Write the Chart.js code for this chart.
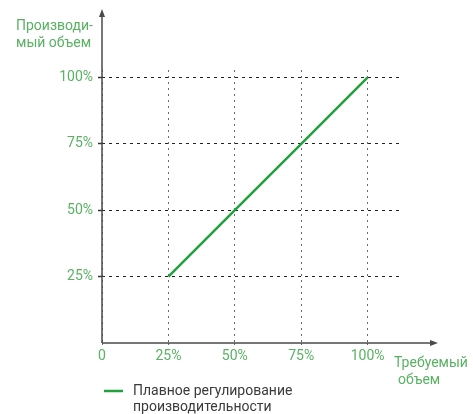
<!DOCTYPE html>
<html>
<head>
<meta charset="utf-8">
<script src="https://cdn.jsdelivr.net/npm/chart.js@4"></script>
<style>
html,body{margin:0;padding:0;background:#fff;}
canvas{display:block;}
</style>
</head>
<body>
<canvas id="c" width="473" height="414"></canvas>
<script>
const xTickValues = [0, 25, 50, 75, 100];
const yTickValues = [25, 50, 75, 100];
const requiredVolume = [25, 50, 75, 100];
const producedVolume = [25, 50, 75, 100];
const seriesLabel = ['Плавное регулирование', 'производительности'];
const yTitle = ['Производи-', 'мый объем'];
const xTitle = ['Требуемый', 'объем'];

const GREEN_TEXT = '#58b262';
const LINE_GREEN = '#22a03c';
const FONT = 'Roboto';

const axesPlugin = {
  id: 'axesArrows',
  afterDraw(chart) {
    const ctx = chart.ctx;
    const xs = chart.scales.x, ys = chart.scales.y;
    const x0 = xs.getPixelForValue(0);
    const y0 = ys.getPixelForValue(0);
    ctx.save();
    ctx.strokeStyle = '#4a4a4a';
    ctx.fillStyle = '#4a4a4a';
    ctx.lineWidth = 1.5;
    // y axis
    ctx.beginPath();
    ctx.moveTo(x0, y0);
    ctx.lineTo(x0, 14);
    ctx.stroke();
    ctx.beginPath();
    ctx.moveTo(x0, 9);
    ctx.lineTo(x0 - 3, 17);
    ctx.lineTo(x0 + 3, 17);
    ctx.closePath();
    ctx.fill();
    // x axis
    ctx.beginPath();
    ctx.moveTo(x0, y0);
    ctx.lineTo(433, y0);
    ctx.stroke();
    ctx.beginPath();
    ctx.moveTo(438, y0);
    ctx.lineTo(430, y0 - 3);
    ctx.lineTo(430, y0 + 3);
    ctx.closePath();
    ctx.fill();

    // axis titles
    ctx.font = '14px ' + FONT;
    ctx.fillStyle = GREEN_TEXT;
    ctx.textBaseline = 'middle';
    ctx.textAlign = 'left';
    ctx.fillText(yTitle[0], 16, 26);
    ctx.fillText(yTitle[1], 16, 43);
    ctx.fillText(xTitle[0], 394, 363);
    ctx.fillText(xTitle[1], 398, 380);

    // legend
    const ds = chart.data.datasets[0];
    ctx.strokeStyle = ds.borderColor;
    ctx.lineWidth = 2.5;
    ctx.beginPath();
    ctx.moveTo(104, 391);
    ctx.lineTo(123, 391);
    ctx.stroke();
    ctx.fillStyle = '#3a3a3a';
    ctx.fillText(seriesLabel[0], 133, 391);
    ctx.fillText(seriesLabel[1], 133, 407);
    ctx.restore();
  }
};

new Chart(document.getElementById('c'), {
  type: 'scatter',
  data: {
    datasets: [{
      label: seriesLabel.join(' '),
      data: requiredVolume.map((x, i) => ({x: x, y: producedVolume[i]})),
      showLine: true,
      borderColor: LINE_GREEN,
      backgroundColor: LINE_GREEN,
      borderWidth: 2.5,
      pointRadius: 0,
      pointHoverRadius: 0,
      tension: 0
    }]
  },
  options: {
    responsive: false,
    animation: false,
    events: [],
    layout: {padding: {left: 0, right: 70, top: 70, bottom: 0}},
    plugins: {legend: {display: false}, tooltip: {enabled: false}},
    scales: {
      x: {
        type: 'linear',
        min: 0,
        max: 113.3,
        afterBuildTicks: s => { s.ticks = xTickValues.map(v => ({value: v})); },
        afterFit: s => { s.height = 71; },
        border: {display: false, dash: [2, 4]},
        grid: {
          color: '#6a6a6a',
          lineWidth: 1,
          drawTicks: true,
          tickLength: 3,
          tickColor: '#6a6a6a',
          tickBorderDash: [2, 4]
        },
        ticks: {
          color: GREEN_TEXT,
          font: {family: FONT, size: 14},
          padding: 2,
          maxRotation: 0,
          autoSkip: false,
          callback: v => v === 0 ? '0' : v + '%'
        }
      },
      y: {
        type: 'linear',
        min: 0,
        max: 102.8,
        afterBuildTicks: s => { s.ticks = yTickValues.map(v => ({value: v})); },
        afterFit: s => { s.width = 102; },
        border: {display: false, dash: [3, 4]},
        grid: {
          color: '#222',
          lineWidth: 1,
          drawTicks: true,
          tickLength: 4,
          tickColor: '#333',
          tickBorderDash: [],
          tickWidth: 1.5
        },
        ticks: {
          color: GREEN_TEXT,
          font: {family: FONT, size: 14},
          padding: 5,
          autoSkip: false,
          callback: v => v + '%'
        }
      }
    }
  },
  plugins: [axesPlugin]
});
</script>
</body>
</html>
